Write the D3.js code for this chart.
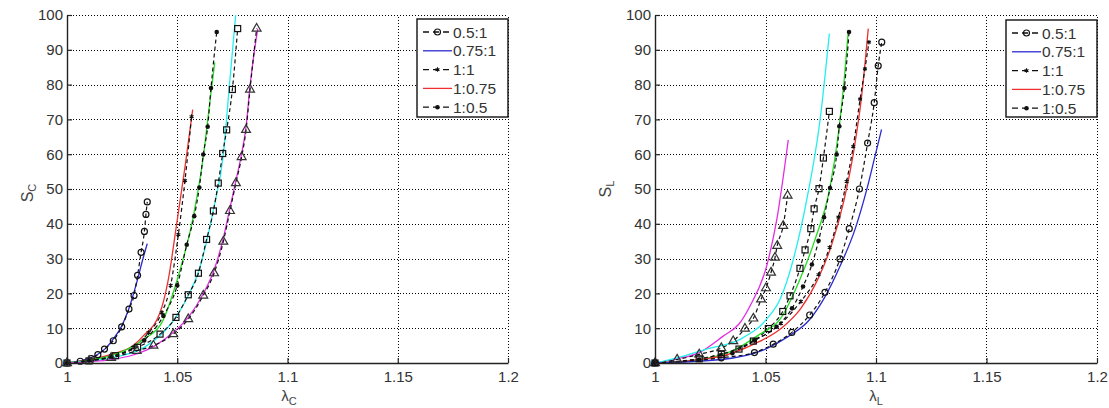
<!DOCTYPE html>
<html><head><meta charset="utf-8">
<script src="https://cdn.jsdelivr.net/npm/d3@7"></script>
<style>
body{margin:0;background:#fff;}
svg{display:block;font-family:"Liberation Sans",Arial,sans-serif;}
</style></head>
<body><svg id="c" width="1109" height="408"></svg>
<script>
// ---------- tick labels ----------
const xTicks = [1, 1.05, 1.1, 1.15, 1.2];
const xTickLabels = ["1", "1.05", "1.1", "1.15", "1.2"];
const yTicks = [0, 10, 20, 30, 40, 50, 60, 70, 80, 90, 100];
const legendLabels = ["0.5:1", "0.75:1", "1:1", "1:0.75", "1:0.5"];

// ---------- left panel (S_C vs lambda_C) ----------
const leftBlue = [[1,0],[1.008,1],[1.014,2.5],[1.018,4.5],[1.021,6.9],[1.0248,10.6],[1.028,15.5],[1.0316,23.1],[1.0345,30.1],[1.0364,34.3]];
const leftCircles = [[1,0],[1.006,0.5],[1.011,1.3],[1.014,2.4],[1.017,4.0],[1.021,6.4],[1.0248,10.4],[1.0281,15.5],[1.0304,19.4],[1.032,25.2],[1.0336,31.8],[1.0351,37.8],[1.0358,42.7],[1.0364,46.3]];
const leftRed = [[1,0],[1.01,1],[1.02,2.5],[1.03,5],[1.0346,7.8],[1.0422,14.5],[1.046,24.2],[1.0497,39.8],[1.0535,56.3],[1.057,72.8]];
const leftStars = [[1,0],[1.01,0.8],[1.02,2.1],[1.03,4.5],[1.037,8.7],[1.043,14.5],[1.047,22.3],[1.0505,36.9],[1.0535,52.4],[1.0565,70.8]];
const leftGreen = [[1,0],[1.01,0.8],[1.02,2.1],[1.035,6.9],[1.043,11.6],[1.05,24],[1.0573,42.2],[1.0618,59.2],[1.064,70.8],[1.067,86.4]];
const leftDots = [[1,0],[1.01,0.7],[1.02,1.8],[1.035,6.5],[1.0437,13.5],[1.05,22.3],[1.0543,34],[1.0577,42.2],[1.06,50.4],[1.0618,59.9],[1.0638,67.9],[1.0653,79],[1.0679,95.1]];
const leftCyan = [[1,0],[1.01,0.5],[1.02,1.5],[1.035,4.5],[1.045,9.7],[1.0497,13.5],[1.055,19.4],[1.0596,26.2],[1.0633,34.9],[1.0664,44.1],[1.0709,59.9],[1.0735,78.6],[1.0765,100]];
const leftSquares = [[1,0],[1.01,0.6],[1.022,2.1],[1.032,4.5],[1.0422,8.3],[1.0494,13.1],[1.055,19.6],[1.0596,25.8],[1.0633,35.5],[1.0664,43.7],[1.0686,51.7],[1.0706,60.2],[1.0724,67],[1.075,78.6],[1.0774,96.1]];
const leftMagenta = [[1,0],[1.01,0.4],[1.02,1],[1.03,2.3],[1.04,5],[1.048,8.7],[1.055,13.1],[1.0618,19.9],[1.0667,26.7],[1.0709,35.9],[1.0739,44.6],[1.0766,52.4],[1.0792,60.2],[1.0812,67.9],[1.083,79.6],[1.0865,96.1]];
const leftTriangles = [[1,0],[1.01,0.6],[1.02,1.5],[1.0316,3.5],[1.0392,5],[1.0482,8.3],[1.055,12.6],[1.0618,19.4],[1.0667,25.8],[1.0709,34.9],[1.0739,43.7],[1.0766,51.7],[1.0792,59.2],[1.0812,67],[1.083,78.6],[1.086,96.1]];

// ---------- right panel (S_L vs lambda_L) ----------
const rightMagenta = [[1,0],[1.01,1.2],[1.02,3],[1.031,7.8],[1.038,11.2],[1.043,16.4],[1.0505,27.8],[1.0551,41.2],[1.0603,64.1]];
const rightTriangles = [[1,0],[1.01,1],[1.02,2.5],[1.03,4.3],[1.0354,6.3],[1.0407,9.9],[1.0445,12.8],[1.048,18.3],[1.0502,21.5],[1.0525,26],[1.0543,30.3],[1.0553,33.7],[1.058,39.4],[1.06,48.1]];
const rightCyan = [[1,0],[1.01,1.5],[1.0234,4],[1.0385,6.8],[1.0505,12.6],[1.0566,18.3],[1.0626,29.8],[1.0686,46.7],[1.0747,69.9],[1.0789,94.7]];
const rightSquares = [[1,0],[1.02,1.2],[1.03,2.5],[1.038,4],[1.0445,6.3],[1.0513,9.9],[1.0578,14.8],[1.0611,19.3],[1.0656,27.2],[1.0679,32.5],[1.0705,38.6],[1.072,44.3],[1.0742,50.1],[1.0762,58.9],[1.0789,72.3]];
const rightGreen = [[1,0],[1.02,1],[1.035,3.5],[1.0475,8.3],[1.0566,12.6],[1.0656,24.1],[1.0722,35.1],[1.0792,50.6],[1.083,66.1],[1.0855,80.6],[1.0875,95.7]];
const rightDots = [[1,0],[1.02,0.9],[1.035,2.8],[1.045,6.5],[1.055,10.4],[1.062,15.7],[1.067,22],[1.071,28.3],[1.074,35.1],[1.0765,41.9],[1.0792,50.3],[1.0822,59.9],[1.0834,68],[1.0857,79],[1.0878,95.1]];
const rightRed = [[1,0],[1.03,2],[1.045,5.5],[1.057,9.9],[1.066,15.7],[1.074,24.5],[1.08,34.1],[1.0855,46.7],[1.09,61.2],[1.0935,76.7],[1.0965,96.1]];
const rightStars = [[1,0],[1.03,2.5],[1.045,6.5],[1.057,11.4],[1.066,17.7],[1.074,25.4],[1.079,33.2],[1.083,41.9],[1.0867,52.2],[1.0897,62.2],[1.0928,75.8],[1.095,84.5],[1.0968,92.2]];
const rightCircles = [[1,0],[1.03,1.5],[1.045,3],[1.0535,5.4],[1.0619,8.8],[1.07,13.8],[1.0769,20.3],[1.0837,29.9],[1.0879,38.6],[1.0925,50],[1.0962,63.2],[1.0992,74.8],[1.101,85.4],[1.1026,92.2]];
const rightBlue = [[1,0],[1.03,1],[1.05,4],[1.06,7.5],[1.07,12.5],[1.0769,19],[1.0837,27.8],[1.0905,38.4],[1.0958,49.8],[1.0995,59.3],[1.1025,67.1]];

// ---------- styles ----------
const COL = {blue:"#2a2ad0", red:"#ee3030", green:"#22dd22", cyan:"#22eeee", magenta:"#e22ee2"};

function solid(data, color){ return {data, color, dashed:false, marker:null}; }
function dashed(data, marker){ return {data, color:"#111", dashed:true, marker}; }

const leftSeries = [
  solid(leftBlue, COL.blue), dashed(leftCircles, "circle"),
  solid(leftRed, COL.red), dashed(leftStars, "star"),
  solid(leftGreen, COL.green), dashed(leftDots, "dot"),
  solid(leftCyan, COL.cyan), dashed(leftSquares, "square"),
  solid(leftMagenta, COL.magenta), dashed(leftTriangles, "triangle")
];
const rightSeries = [
  solid(rightMagenta, COL.magenta), dashed(rightTriangles, "triangle"),
  solid(rightCyan, COL.cyan), dashed(rightSquares, "square"),
  solid(rightGreen, COL.green), dashed(rightDots, "dot"),
  solid(rightRed, COL.red), dashed(rightStars, "star"),
  solid(rightBlue, COL.blue), dashed(rightCircles, "circle")
];
const legendStyles = [
  {dashed:true, color:"#111", marker:"circle"},
  {dashed:false, color:COL.blue, marker:null},
  {dashed:true, color:"#111", marker:"star"},
  {dashed:false, color:COL.red, marker:null},
  {dashed:true, color:"#111", marker:"dot"}
];

const svg = d3.select("#c");

function drawMarker(g, type, x, y){
  if(type==="circle"){
    g.append("circle").attr("cx",x).attr("cy",y).attr("r",3).attr("fill","none").attr("stroke","#111").attr("stroke-width",1.2);
  } else if(type==="dot"){
    g.append("circle").attr("cx",x).attr("cy",y).attr("r",2.3).attr("fill","#111");
  } else if(type==="square"){
    g.append("rect").attr("x",x-3).attr("y",y-3).attr("width",6).attr("height",6).attr("fill","none").attr("stroke","#111").attr("stroke-width",1.2);
  } else if(type==="triangle"){
    g.append("path").attr("d", d3.symbol().type(d3.symbolTriangle).size(34)()).attr("transform",`translate(${x},${y})`).attr("fill","none").attr("stroke","#333").attr("stroke-width",1.2);
  } else if(type==="star"){
    g.append("path").attr("d", d3.symbol().type(d3.symbolAsterisk).size(14)()).attr("transform",`translate(${x},${y})`).attr("fill","none").attr("stroke","#111").attr("stroke-width",1.1);
  }
}

const snap = v => Math.round(v) + 0.5;

function panel(cfg){
  const x = d3.scaleLinear().domain([1,1.2]).range([cfg.x0,cfg.x1]);
  const y = d3.scaleLinear().domain([0,100]).range([cfg.y0,cfg.y1]);
  const g = svg.append("g");

  // grid
  const grid = g.append("g").attr("stroke","#000").attr("stroke-width",1).attr("stroke-dasharray","1,2");
  xTicks.slice(1).forEach(t=>grid.append("line").attr("x1",snap(x(t))).attr("x2",snap(x(t))).attr("y1",cfg.y0).attr("y2",cfg.y1));
  yTicks.slice(1).forEach(t=>grid.append("line").attr("x1",cfg.x0).attr("x2",cfg.x1).attr("y1",snap(y(t))).attr("y2",snap(y(t))));

  // curves
  const line = d3.line().x(d=>x(d[0])).y(d=>y(d[1])).curve(d3.curveMonotoneX);
  cfg.series.forEach(s=>{
    g.append("path").attr("d",line(s.data)).attr("fill","none")
      .attr("stroke",s.color).attr("stroke-width",s.dashed?1.2:1.3)
      .attr("stroke-dasharray",s.dashed?"4,3":null);
  });
  cfg.series.forEach(s=>{
    if(s.marker){ s.data.forEach(d=>drawMarker(g,s.marker,x(d[0]),y(d[1]))); }
  });

  // axes
  const ax = g.append("g").attr("transform",`translate(0,${cfg.y0})`)
    .call(d3.axisBottom(x).tickValues(xTicks).tickFormat((d,i)=>xTickLabels[i]).tickSize(-5).tickPadding(8).tickSizeOuter(0));
  const ay = g.append("g").attr("transform",`translate(${cfg.x0},0)`)
    .call(d3.axisLeft(y).tickValues(yTicks).tickSize(-5).tickPadding(4).tickSizeOuter(0));
  [ax,ay].forEach(a=>{
    a.select(".domain").attr("stroke","#222").attr("stroke-width",1.4);
    a.selectAll(".tick line").attr("stroke","#222").attr("stroke-width",1.2);
    a.selectAll(".tick text").attr("font-size",15).attr("fill","#333").attr("font-family","Liberation Sans, Arial, sans-serif");
  });

  // axis labels
  const yl = g.append("text").attr("transform",`translate(${cfg.ylx},${cfg.yly}) rotate(-90)`)
    .attr("text-anchor","middle").attr("font-size",16).attr("fill","#444");
  yl.append("tspan").text("S");
  yl.append("tspan").attr("font-size",11).attr("dy",3).text(cfg.sub);
  const xl = g.append("text").attr("x",cfg.xlx).attr("y",cfg.xly)
    .attr("text-anchor","middle").attr("font-size",15).attr("fill","#444");
  xl.append("tspan").text("λ");
  xl.append("tspan").attr("font-size",11).attr("dy",4).text(cfg.sub);

  // legend
  const lg = g.append("g");
  lg.append("rect").attr("x",cfg.lx).attr("y",cfg.ly).attr("width",cfg.lw).attr("height",cfg.lh)
    .attr("fill","#fff").attr("stroke","#111").attr("stroke-width",1.4);
  legendLabels.forEach((lab,i)=>{
    const yy = cfg.ly + 13 + i*18.8;
    const st = legendStyles[i];
    const lx0 = cfg.lx+6, lx1 = cfg.lx+35;
    lg.append("line").attr("x1",lx0).attr("x2",lx1).attr("y1",yy).attr("y2",yy)
      .attr("stroke",st.color).attr("stroke-width",1.3)
      .attr("stroke-dasharray",st.dashed?"6,4":null);
    if(st.marker) drawMarker(lg, st.marker, (lx0+lx1)/2, yy);
    lg.append("text").attr("x",lx1+1).attr("y",yy+5.5).attr("font-size",15.5).attr("fill","#333").text(lab);
  });
}

panel({x0:67,x1:508,y0:363,y1:15,series:leftSeries,sub:"C",ylx:33,yly:193,xlx:289,xly:401,lx:417,ly:19,lw:91,lh:98});
panel({x0:655,x1:1097,y0:363,y1:15,series:rightSeries,sub:"L",ylx:611,yly:189,xlx:876,xly:401,lx:1006,ly:20,lw:91,lh:97});
</script></body></html>
